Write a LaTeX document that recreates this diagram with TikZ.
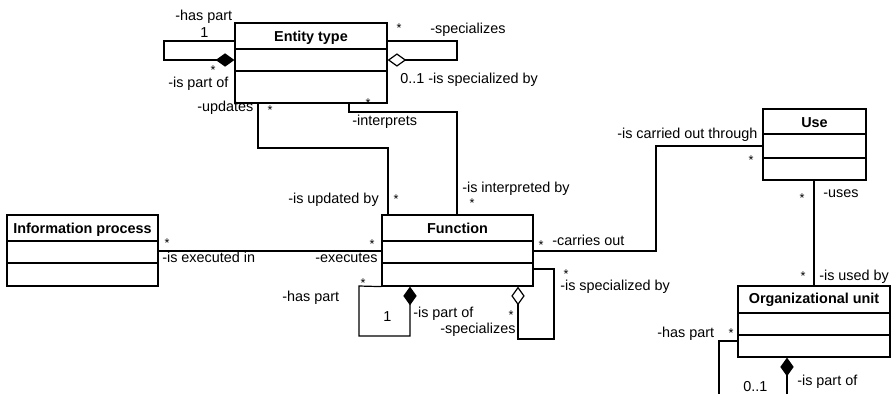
\documentclass[tikz,border=0pt]{standalone}
\usepackage{fontspec}
\setmainfont{Liberation Sans}
\usetikzlibrary{arrows.meta, fit}

\begin{document}
\begin{tikzpicture}[x=0.75pt, y=-0.75pt, font=\fontsize{10.8}{13}\selectfont,
    cls/.style={draw, line width=0.9pt, inner sep=0pt},
    sep/.style={line width=0.9pt},
    assoc/.style={line width=0.9pt},
    lbl/.style={inner sep=0pt, anchor=base west},
    mult/.style={inner sep=0pt, anchor=base, font=\fontsize{9.5}{11}\selectfont},
    title/.style={inner sep=0pt, anchor=base, font=\fontsize{10.8}{13}\selectfont\bfseries},
    comp/.style={-{Diamond[length=14pt, width=10pt]}},
    aggr/.style={-{Diamond[open, fill=white, length=14pt, width=10pt]}}]
  \useasboundingbox (0,0) rectangle (892,394);

  % classes
  \coordinate (et-nw) at (235,23);
  \coordinate (et-se) at (387,103);
  \node[cls, fit=(et-nw)(et-se)] (entity) {};
  \node[title] (entity-t) at (311,41) {Entity type};
  \draw[sep] (entity.west |- 0,49) -- (entity.east |- 0,49);
  \draw[sep] (entity.west |- 0,71) -- (entity.east |- 0,71);

  \coordinate (fn-nw) at (382,215);
  \coordinate (fn-se) at (533,286);
  \node[cls, fit=(fn-nw)(fn-se)] (function) {};
  \node[title] (function-t) at (457.5,233) {Function};
  \draw[sep] (function.west |- 0,241) -- (function.east |- 0,241);
  \draw[sep] (function.west |- 0,263) -- (function.east |- 0,263);

  \coordinate (ip-nw) at (7,215);
  \coordinate (ip-se) at (158,286);
  \node[cls, fit=(ip-nw)(ip-se)] (infoproc) {};
  \node[title] (infoproc-t) at (82.5,233) {Information process};
  \draw[sep] (infoproc.west |- 0,241) -- (infoproc.east |- 0,241);
  \draw[sep] (infoproc.west |- 0,263) -- (infoproc.east |- 0,263);

  \coordinate (us-nw) at (763,109);
  \coordinate (us-se) at (866,180);
  \node[cls, fit=(us-nw)(us-se)] (use) {};
  \node[title] (use-t) at (814.5,127) {Use};
  \draw[sep] (use.west |- 0,134) -- (use.east |- 0,134);
  \draw[sep] (use.west |- 0,158) -- (use.east |- 0,158);

  \coordinate (ou-nw) at (738,286);
  \coordinate (ou-se) at (890,357);
  \node[cls, fit=(ou-nw)(ou-se)] (orgunit) {};
  \node[title] (orgunit-t) at (814,303) {Organizational unit};
  \draw[sep] (orgunit.west |- 0,313) -- (orgunit.east |- 0,313);
  \draw[sep] (orgunit.west |- 0,335) -- (orgunit.east |- 0,335);

  % bend points
  \coordinate (etl1) at (164,41);
  \coordinate (etl2) at (164,60);
  \coordinate (etr1) at (457,41);
  \coordinate (etr2) at (457,60);
  \coordinate (upd1) at (258,148);
  \coordinate (upd2) at (388,148);
  \coordinate (int1) at (349,112);
  \coordinate (int2) at (457,112);
  \coordinate (car1) at (656,251);
  \coordinate (car2) at (656,146);
  \coordinate (fnl1) at (359,286);
  \coordinate (fnl2) at (359,336);
  \coordinate (fnl3) at (410,336);
  \coordinate (fnr1) at (554,269);
  \coordinate (fnr2) at (554,339);
  \coordinate (fnr3) at (518,339);
  \coordinate (oul1) at (719,341);
  \coordinate (oul2) at (719,394);
  \coordinate (oub) at (787,394);

  % associations
  \draw[assoc, comp] (entity.west |- etl1) -- (etl1) -- (etl2) -- (entity.west |- etl2);
  \draw[assoc, aggr] (entity.east |- etr1) -- (etr1) -- (etr2) -- (entity.east |- etr2);
  \draw[assoc] (entity.south -| upd1) -- (upd1) -- (upd2) -- (function.north -| upd2);
  \draw[assoc] (entity.south -| int1) -- (int1) -- (int2) -- (function.north -| int2);
  \draw[assoc] (infoproc.east |- 0,251) -- (function.west |- 0,251);
  \draw[assoc] (function.east |- car1) -- (car1) -- (car2) -- (use.west |- car2);
  \draw[assoc] (use.south -| 814,0) -- (orgunit.north -| 814,0);
  \draw[assoc, comp] (function.south west) -- (fnl1) -- (fnl2) -- (fnl3) -- (function.south -| fnl3);
  \draw[assoc, aggr] (function.east |- fnr1) -- (fnr1) -- (fnr2) -- (fnr3) -- (function.south -| fnr3);
  \draw[assoc] (orgunit.west |- oul1) -- (oul1) -- (oul2);
  \draw[assoc, comp] (oub) -- (orgunit.south -| oub);

  % roles and multiplicities
  \node[lbl] (l1) at (175,20) {-has part};
  \node[lbl] (l2) at (200,37) {1};
  \node[mult] (l3) at (213,74) {*};
  \node[lbl] (l4) at (168,87) {-is part of};
  \node[mult] (l5) at (399,32) {*};
  \node[lbl] (l6) at (430,33) {-specializes};
  \node[lbl] (l7) at (400,83) {0..1 -is specialized by};
  \node[lbl] (l8) at (197,111) {-updates};
  \node[mult] (l9) at (270,114) {*};
  \node[mult] (l10) at (368,107) {*};
  \node[lbl] (l11) at (352,125) {-interprets};
  \node[lbl] (l12) at (288,203) {-is updated by};
  \node[mult] (l13) at (396,203) {*};
  \node[lbl] (l14) at (462,192) {-is interpreted by};
  \node[mult] (l15) at (472,207) {*};

  \node[mult] (l16) at (167,247) {*};
  \node[lbl] (l17) at (162,262) {-is executed in};
  \node[mult] (l18) at (372,248) {*};
  \node[lbl] (l19) at (315,262) {-executes};
  \node[mult] (l20) at (541,249) {*};
  \node[lbl] (l21) at (552,245) {-carries out};

  \node[mult] (l22) at (363,287) {*};
  \node[lbl] (l23) at (282,301) {-has part};
  \node[lbl] (l24) at (383,321) {1};
  \node[lbl] (l25) at (413,317) {-is part of};
  \node[mult] (l26) at (511,319) {*};
  \node[lbl] (l27) at (440,333) {-specializes};
  \node[mult] (l28) at (566,278) {*};
  \node[lbl] (l29) at (560,290) {-is specialized by};

  \node[lbl] (l30) at (617,138) {-is carried out through};
  \node[mult] (l31) at (751,164) {*};
  \node[mult] (l32) at (802,202) {*};
  \node[lbl] (l33) at (823,197) {-uses};
  \node[mult] (l34) at (803,280) {*};
  \node[lbl] (l35) at (819,280) {-is used by};
  \node[lbl] (l36) at (657,337) {-has part};
  \node[mult] (l37) at (731,337) {*};
  \node[lbl] (l38) at (743,391) {0..1};
  \node[lbl] (l39) at (797,385) {-is part of};
\end{tikzpicture}
\end{document}
